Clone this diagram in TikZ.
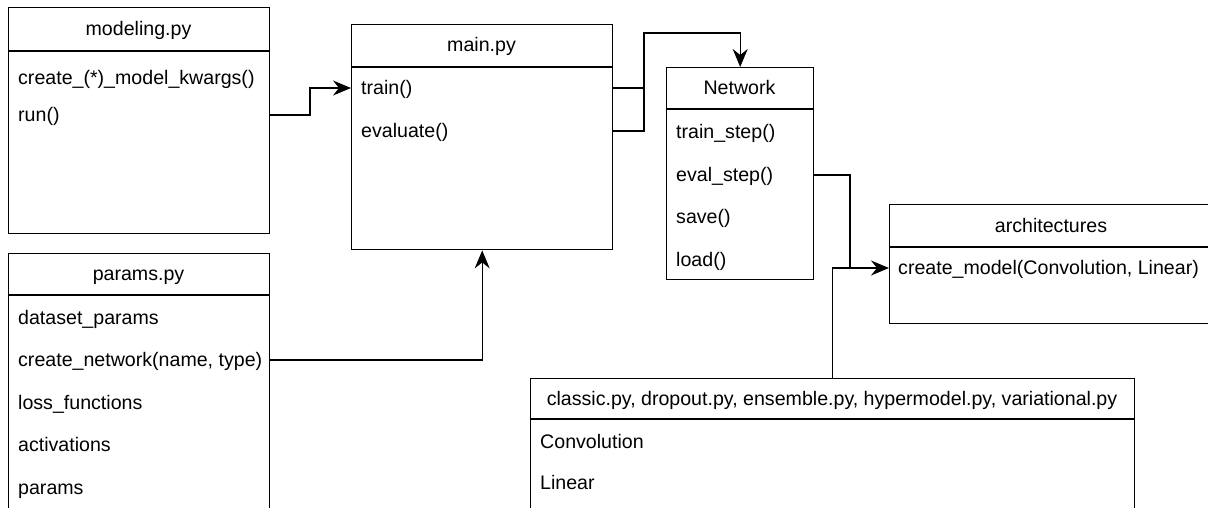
\documentclass[tikz,border=0pt]{standalone}
\usepackage{fontspec}
\setmainfont{Liberation Sans}
\usetikzlibrary{arrows.meta,calc}
\begin{document}
\begin{tikzpicture}[x=1pt,y=-1pt,
  box/.style={draw=black, fill=white, line width=1.4pt, rectangle, inner sep=0pt, anchor=north west},
  ctitle/.style={font=\fontsize{19.6}{23}\selectfont, inner sep=0pt, anchor=center, text height=12pt, text depth=0pt},
  item/.style={font=\fontsize{19.6}{23}\selectfont, inner sep=0pt, anchor=west, text height=12pt, text depth=0pt},
  hline/.style={line width=1.4pt, draw=black},
  conn/.style={line width=1.4pt, draw=black},
  arr/.style={conn, -{Stealth[length=18pt,width=15pt,inset=6pt]}},
]
\useasboundingbox (0,0) rectangle (1208,507);
\fill[white] (0,0) rectangle (1208,507);
\clip (0,0) rectangle (1208,507);

% modeling.py
\node[box, minimum width=261pt, minimum height=226pt] (modeling) at (8,7) {};
\draw[hline] (8,51) -- (269,51);
\node[ctitle] (modt) at (138.5,29) {modeling.py};
\node[item] (m1) at (18,78) {create\_(*)\_model\_kwargs()};
\node[item] (m2) at (18,115) {run()};

% main.py
\node[box, minimum width=261pt, minimum height=225pt] (main) at (351,24) {};
\draw[hline] (351,67) -- (612,67);
\node[ctitle] (maint) at (481.5,45) {main.py};
\node[item] (a1) at (361,88) {train()};
\node[item] (a2) at (361,131) {evaluate()};

% Network
\node[box, minimum width=147pt, minimum height=212pt] (network) at (666,67) {};
\draw[hline] (666,109) -- (813,109);
\node[ctitle] (nett) at (739.5,88) {Network};
\node[item] (n1) at (676,132) {train\_step()};
\node[item] (n2) at (676,175) {eval\_step()};
\node[item] (n3) at (676,217) {save()};
\node[item] (n4) at (676,260) {load()};

% params.py
\node[box, minimum width=261pt, minimum height=290pt] (params) at (8,253) {};
\draw[hline] (8,295) -- (269,295);
\node[ctitle] (part) at (138.5,274) {params.py};
\node[item] (p1) at (18,318) {dataset\_params};
\node[item] (p2) at (18,360) {create\_network(name, type)};
\node[item] (p3) at (18,403) {loss\_functions};
\node[item] (p4) at (18,445) {activations};
\node[item] (p5) at (18,488) {params};

% architectures
\node[box, minimum width=324pt, minimum height=119pt] (arch) at (889,204) {};
\draw[hline] (889,247) -- (1213,247);
\node[ctitle] (archt) at (1051,226) {architectures};
\node[item] (ar1) at (898,268) {create\_model(Convolution, Linear)};

% classic etc.
\node[box, minimum width=604pt, minimum height=170pt] (classic) at (530,378) {};
\draw[hline] (530,419) -- (1134,419);
\node[ctitle] (clt) at (832,399) {classic.py, dropout.py, ensemble.py, hypermodel.py, variational.py};
\node[item] (c1) at (540,442) {Convolution};
\node[item] (c2) at (540,483) {Linear};

% junction coordinates
\coordinate (k1) at (310,0);
\coordinate (k2) at (644,33);
\coordinate (k3) at (850,0);

% connectors
\draw[arr] (modeling.east |- m2) -- (k1 |- m2) -- (k1 |- a1) -- (main.west |- a1);
\draw[conn] (main.east |- a1) -- (k2 |- a1);
\draw[arr] (main.east |- a2) -- (k2 |- a2) -- (k2) -| (network.north);
\draw[arr] (params.east |- p2) -| (main.south);
\draw[arr] (network.east |- n2) -- (k3 |- n2) -- (k3 |- ar1) -- (arch.west |- ar1);
\draw[conn] (classic.north) -- (classic.north |- ar1) -- (k3 |- ar1);
\end{tikzpicture}
\end{document}
